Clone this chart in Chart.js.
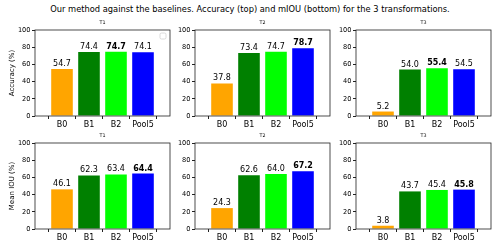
<!DOCTYPE html>
<html lang="en">
<head>
    <meta charset="UTF-8">
    <title>Baselines comparison</title>
    <script src="https://cdn.jsdelivr.net/npm/chart.js"></script>
    <style>
        body {
            margin: 0;
            width: 500px;
            height: 250px;
            background: #fff;
            font-family: "DejaVu Sans", sans-serif;
            position: relative;
            overflow: hidden;
        }

        .suptitle {
            position: absolute;
            left: 0;
            width: 500px;
            top: 3.5px;
            text-align: center;
            font-size: 8.3px;
            color: #000;
        }

        .cell {
            position: absolute;
        }
    </style>
</head>
<body>
    <div class="suptitle">Our method against the baselines. Accuracy (top) and mIOU (bottom) for the 3 transformations.</div>

    <script>
        // Data
        const methods = ['B0', 'B1', 'B2', 'Pool5'];
        const barColors = ['#ffa500', '#008000', '#00ff00', '#0000ff'];
        const transforms = ['T1', 'T2', 'T3'];

        const accT1 = [54.7, 74.4, 74.7, 74.1];
        const accT2 = [37.8, 73.4, 74.7, 78.7];
        const accT3 = [5.2, 54.0, 55.4, 54.5];

        const iouT1 = [46.1, 62.3, 63.4, 64.4];
        const iouT2 = [24.3, 62.6, 64.0, 67.2];
        const iouT3 = [3.8, 43.7, 45.4, 45.8];

        const yTicks = [0, 20, 40, 60, 80, 100];

        // panel geometry (plot area in page pixels)
        const colLeft = [35, 195, 356];
        const rowTop = [30, 143];
        const plotW = 135;
        const plotH = 86;
        const titleH = 14;
        const xAxisH = 20;

        // box, subplot title, value labels, empty legend
        const panelPlugin = {
            id: 'panel',
            afterDatasetsDraw(chart) {
                const ctx = chart.ctx;
                const area = chart.chartArea;
                const opts = chart.options.plugins.panel;
                const meta = chart.getDatasetMeta(0);
                const values = chart.data.datasets[0].data.map(p => p.y);
                const best = Math.max(...values);

                ctx.save();
                ctx.fillStyle = '#000';
                ctx.textAlign = 'center';
                ctx.textBaseline = 'alphabetic';
                meta.data.forEach((bar, i) => {
                    ctx.font = (values[i] === best ? 'bold ' : '') + '8px "DejaVu Sans"';
                    ctx.fillText(values[i].toFixed(1), bar.x, bar.y - 3);
                });

                ctx.font = '4.8px "DejaVu Sans"';
                ctx.fillText(opts.title, (area.left + area.right) / 2, area.top - 6);

                ctx.strokeStyle = '#222';
                ctx.lineWidth = 0.8;
                ctx.strokeRect(area.left, area.top, area.right - area.left, area.bottom - area.top);

                if (opts.legend) {
                    ctx.strokeStyle = '#d0d0d0';
                    ctx.lineWidth = 0.8;
                    ctx.beginPath();
                    ctx.roundRect(area.right - 10, area.top + 3, 6, 6, 1.5);
                    ctx.stroke();
                }
                ctx.restore();
            }
        };

        function makePanel(row, col, values, yLabel) {
            const yW = col === 0 ? 35 : 25;
            const div = document.createElement('div');
            div.className = 'cell';
            div.style.left = (colLeft[col] - yW) + 'px';
            div.style.top = (rowTop[row] - titleH) + 'px';
            div.style.width = (plotW + yW + 4) + 'px';
            div.style.height = (titleH + plotH + xAxisH) + 'px';
            const canvas = document.createElement('canvas');
            div.appendChild(canvas);
            document.body.appendChild(div);

            new Chart(canvas, {
                type: 'bar',
                data: {
                    datasets: [{
                        data: values.map((v, i) => ({ x: i, y: v })),
                        backgroundColor: barColors,
                        borderWidth: 0,
                        barPercentage: 0.8,
                        categoryPercentage: 1
                    }]
                },
                options: {
                    responsive: true,
                    maintainAspectRatio: false,
                    animation: false,
                    layout: { padding: { top: titleH, right: 4, left: 0, bottom: 0 } },
                    plugins: {
                        legend: { display: false },
                        tooltip: { enabled: false },
                        panel: { title: transforms[col], legend: row === 0 && col === 0 }
                    },
                    scales: {
                        x: {
                            type: 'linear',
                            min: -1,
                            max: 4,
                            offset: false,
                            afterBuildTicks: s => { s.ticks = methods.map((m, i) => ({ value: i })); },
                            afterFit: s => { s.height = xAxisH; },
                            ticks: {
                                callback: v => methods[v],
                                font: { family: 'DejaVu Sans', size: 8 },
                                color: '#000',
                                padding: 1,
                                maxRotation: 0
                            },
                            grid: { drawOnChartArea: false, drawTicks: true, tickLength: 3, color: '#222' },
                            border: { display: false }
                        },
                        y: {
                            min: 0,
                            max: 100,
                            afterBuildTicks: s => { s.ticks = yTicks.map(v => ({ value: v })); },
                            afterFit: s => { s.width = yW; },
                            ticks: {
                                font: { family: 'DejaVu Sans', size: 6.6 },
                                color: '#000',
                                padding: 1.5
                            },
                            grid: { drawOnChartArea: false, drawTicks: true, tickLength: 3, color: '#222' },
                            border: { display: false },
                            title: {
                                display: !!yLabel,
                                text: yLabel || '',
                                font: { family: 'DejaVu Sans', size: 7 },
                                color: '#000',
                                padding: { top: 8, bottom: 0 }
                            }
                        }
                    }
                },
                plugins: [panelPlugin]
            });
        }

        makePanel(0, 0, accT1, 'Accuracy (%)');
        makePanel(0, 1, accT2);
        makePanel(0, 2, accT3);
        makePanel(1, 0, iouT1, 'Mean IOU (%)');
        makePanel(1, 1, iouT2);
        makePanel(1, 2, iouT3);
    </script>
</body>
</html>
